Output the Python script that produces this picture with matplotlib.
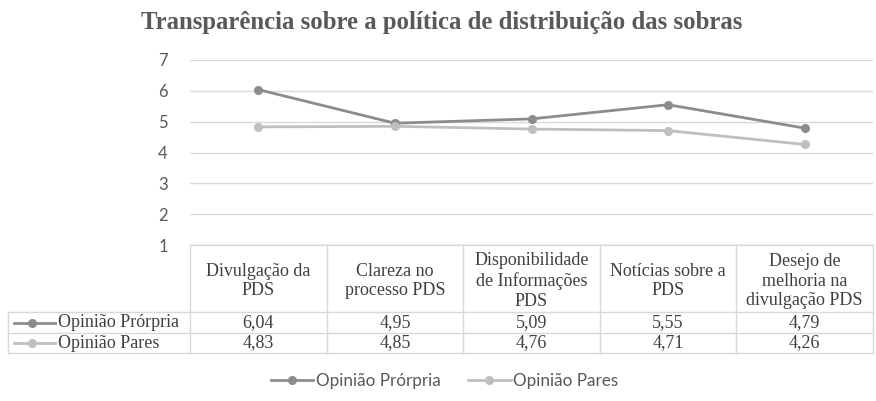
import matplotlib.pyplot as plt

# DATA
categorias = ["Divulgação da\nPDS", "Clareza no\nprocesso PDS",
              "Disponibilidade\nde Informações\nPDS", "Notícias sobre a\nPDS",
              "Desejo de\nmelhoria na\ndivulgação PDS"]
propria = [6.04, 4.95, 5.09, 5.55, 4.79]
pares = [4.83, 4.85, 4.76, 4.71, 4.26]
nomes = ["Opinião Prórpria", "Opinião Pares"]
yticks = [1, 2, 3, 4, 5, 6, 7]
titulo = "Transparência sobre a política de distribuição das sobras"

cores = ["#8c8c8c", "#bfbfbf"]
grade = "#d9d9d9"
texto = "#404040"
serif = "Liberation Serif"
sans = "Lato"

W, H = 876, 401
fig = plt.figure(figsize=(W / 100, H / 100), dpi=100)

def fx(px):
    return px / W

def fy(py):
    return 1 - py / H

# PLOT AREA (pixel box)
left, right, top, bottom = 190, 873, 60, 245
ax = fig.add_axes([fx(left), fy(bottom), fx(right) - fx(left), fy(top) - fy(bottom)])
n = len(categorias)
x = list(range(n))
series = [propria, pares]
handles = []
for vals, cor, nome in zip(series, cores, nomes):
    h, = ax.plot(x, vals, color=cor, lw=2, marker='o', ms=5.5,
                 label=nome, zorder=3, clip_on=False)
    handles.append(h)
ax.set_xlim(-0.5, n - 0.5)
ax.set_ylim(min(yticks), max(yticks))
ax.set_yticks(yticks)
ax.set_xticks([])
ax.grid(axis='y', color=grade, lw=1)
for s in ax.spines.values():
    s.set_visible(False)
ax.tick_params(axis='y', length=0, pad=16, labelsize=12, labelcolor="#595959")
for lab in ax.get_yticklabels():
    lab.set_family(sans)

# DATA TABLE drawn in pixel coordinates
tab = fig.add_axes([0, 0, 1, 1])
tab.set_xlim(0, W)
tab.set_ylim(H, 0)
tab.axis('off')
tab.patch.set_alpha(0)

col_w = (right - left) / n
y_head, y_r1, y_r2, y_end = bottom, 312, 333, 353
x0 = 8
tab.plot([left, right], [y_head, y_head], color=grade, lw=1)
for yy in [y_r1, y_r2, y_end]:
    tab.plot([x0, right], [yy, yy], color=grade, lw=1)
tab.plot([x0, x0], [y_r1, y_end], color=grade, lw=1)
for i in range(n + 1):
    xx = left + i * col_w
    tab.plot([xx, xx], [y_head, y_end], color=grade, lw=1)

fs = 13
for i, cat in enumerate(categorias):
    cx = left + (i + 0.5) * col_w
    tab.text(cx, (y_head + y_r1) / 2 + 2.5, cat, ha='center', va='center',
             family=serif, fontsize=fs, color=texto, linespacing=1.22)
    for j, vals in enumerate(series):
        yc = [(y_r1 + y_r2) / 2, (y_r2 + y_end) / 2][j]
        tab.text(cx, yc, f"{vals[i]:.2f}".replace('.', ','), ha='center',
                 va='center', family=serif, fontsize=fs, color=texto)

for j, (nome, cor) in enumerate(zip(nomes, cores)):
    yc = [(y_r1 + y_r2) / 2, (y_r2 + y_end) / 2][j]
    tab.plot([14, 55], [yc, yc], color=cor, lw=2)
    tab.plot([32], [yc], color=cor, marker='o', ms=5.5)
    tab.text(58, yc, nome, ha='left', va='center', family=serif,
             fontsize=fs, color=texto)

# TITLE
fig.text(fx(442), fy(23), titulo, ha='center', va='center', family=serif,
         fontweight='bold', fontsize=17.8, color="#595959")

# LEGEND
fig.legend(handles=handles, labels=nomes, loc='center',
           bbox_to_anchor=(fx(444.5), fy(381)), ncol=2, frameon=False,
           prop={'family': sans, 'size': 12.3}, handlelength=2.5,
           columnspacing=1.6, handletextpad=0.15, labelcolor="#595959")

fig.savefig("out.png", dpi=100)
